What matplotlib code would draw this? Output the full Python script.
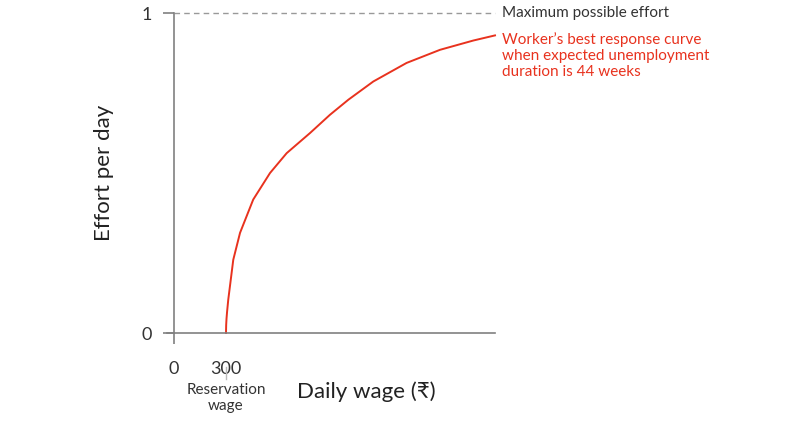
import matplotlib
matplotlib.use("Agg")
import matplotlib.pyplot as plt

plt.rcParams['font.family'] = ['Lato', 'DejaVu Sans']

wage = [300, 301, 303, 306, 313, 342, 381, 457, 554, 650, 785, 900, 1006, 1150, 1342, 1535, 1727, 1852]
effort = [0.0, 0.025, 0.045, 0.065, 0.104, 0.229, 0.313, 0.417, 0.5, 0.562, 0.625, 0.682, 0.729, 0.786, 0.844, 0.885, 0.914, 0.930]
xticks = [0, 300]
yticks = [0, 1]
xmax = 1852

fig = plt.figure(figsize=(8.09, 4.28), dpi=100)
ax = fig.add_axes([174/809, 95/428, 321/809, 320/428])
ax.set_xlim(0, xmax)
ax.set_ylim(0, 1)
grey = '#808080'
for s in ['top', 'right']:
    ax.spines[s].set_visible(False)
for s in ['left', 'bottom']:
    ax.spines[s].set_color(grey)
    ax.spines[s].set_linewidth(1.2)
ax.plot([-40, 0], [0, 0], color=grey, lw=1.2, clip_on=False)
ax.plot([0, xmax], [1, 1], color='#999999', lw=1, ls=(0, (4, 3)), clip_on=False)
ax.plot(wage, effort, color='#e8321e', lw=1.4, clip_on=False)

ax.set_xticks(xticks)
ax.set_xticklabels(['0', '300'])
ax.set_yticks(yticks)
ax.tick_params(axis='both', colors=grey, labelcolor='#333333', labelsize=13, length=8, width=1.2)
ax.tick_params(axis='x', pad=12)
ax.tick_params(axis='y', pad=8)
ax.xaxis.get_major_ticks()[1].tick1line.set_visible(False)

ax.plot([300, 300], [-0.105, -0.145], color='#bbbbbb', lw=1, clip_on=False)
ax.text(300, -0.155, 'Reservation\nwage', ha='center', va='top', fontsize=11, color='#333333', linespacing=1.25)
ax.text(0.383, -0.185, 'Daily wage (₹)', transform=ax.transAxes, ha='left', va='center', fontsize=16, color='#222222')
ax.set_ylabel('Effort per day', fontsize=16, color='#222222', labelpad=20)

ax.text(xmax + 40, 1, 'Maximum possible effort', ha='left', va='center', fontsize=11, color='#333333', clip_on=False)
ax.text(xmax + 40, 0.94, "Worker’s best response curve\nwhen expected unemployment\nduration is 44 weeks",
        ha='left', va='top', fontsize=11, color='#e8321e', linespacing=1.2, clip_on=False)

fig.savefig('out.png', dpi=100)
